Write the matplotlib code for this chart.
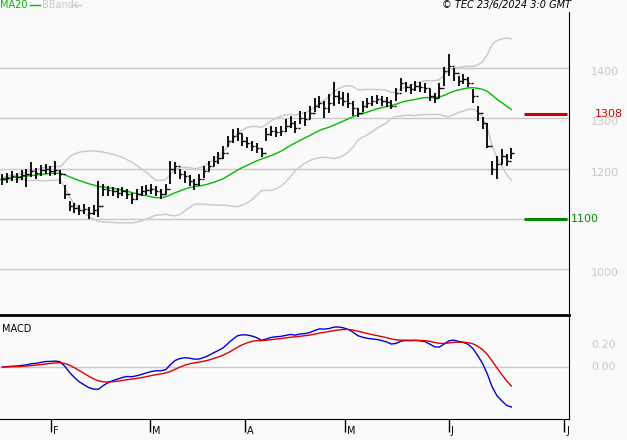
import numpy as np
import pandas as pd
import matplotlib
matplotlib.use("Agg")
import matplotlib.pyplot as plt

closes = [1180,1182,1185,1183,1188,1190,1195,1192,1198,1200,1195,1198,1190,1150,1125,1122,1118,1120,1112,1118,
          1125,1160,1158,1155,1152,1155,1150,1140,1150,1155,1158,1160,1155,1150,1160,1200,1205,1190,1185,1175,
          1170,1180,1195,1205,1215,1220,1230,1255,1265,1270,1255,1250,1245,1240,1230,1268,1275,1272,1275,1285,
          1290,1280,1300,1298,1310,1325,1330,1320,1330,1345,1340,1335,1330,1320,1310,1325,1330,1335,1338,1335,
          1332,1325,1350,1370,1362,1358,1365,1362,1360,1345,1340,1360,1395,1405,1390,1375,1378,1370,1345,1310,
          1290,1245,1200,1210,1225,1215,1230]
highs = [1190,1192,1195,1192,1198,1200,1212,1202,1208,1210,1205,1214,1198,1168,1135,1132,1128,1130,1124,1128,
         1176,1170,1166,1164,1162,1164,1160,1152,1160,1165,1168,1170,1166,1160,1170,1215,1212,1200,1195,1188,
         1180,1190,1205,1215,1225,1232,1245,1265,1278,1280,1268,1262,1255,1250,1240,1280,1285,1282,1285,1298,
         1305,1295,1315,1312,1325,1340,1345,1335,1348,1372,1355,1352,1350,1335,1320,1335,1340,1345,1346,1345,
         1342,1336,1360,1380,1372,1368,1375,1372,1370,1358,1350,1370,1402,1428,1400,1385,1388,1382,1358,1325,
         1302,1290,1215,1225,1238,1228,1240]
lows = [1168,1172,1175,1172,1178,1164,1184,1180,1186,1190,1185,1188,1170,1140,1115,1112,1108,1110,1100,1108,
        1103,1145,1146,1145,1142,1145,1140,1130,1138,1145,1148,1150,1145,1140,1150,1170,1190,1180,1172,1165,
        1158,1165,1182,1195,1205,1210,1218,1242,1250,1255,1245,1240,1235,1230,1222,1255,1265,1262,1265,1272,
        1280,1270,1288,1285,1298,1312,1320,1300,1310,1325,1328,1325,1320,1305,1303,1312,1320,1325,1328,1325,
        1322,1318,1335,1355,1352,1348,1355,1352,1350,1335,1330,1340,1365,1385,1375,1365,1368,1362,1330,1295,
        1278,1240,1188,1180,1210,1205,1218]
month_labels = ["F", "M", "A", "M", "J", "J"]
month_pos = [10.1, 30.75, 50.5, 71.4, 93.0, 117.0]
resistance = 1308
support = 1100

bg = "#fafafa"
fig = plt.figure(figsize=(6.27, 4.4), dpi=100, facecolor=bg)
W, H = 627, 440
def rect(x0, y0, x1, y1):
    return [x0 / W, 1 - y1 / H, (x1 - x0) / W, (y1 - y0) / H]

c = pd.Series(closes, dtype=float)
n = len(c)
x = np.arange(n)
ma = c.rolling(20, min_periods=1).mean()
sd = c.rolling(20, min_periods=2).std().bfill()
up, lo = ma + 2 * sd, ma - 2 * sd
macd = c.ewm(span=12, adjust=False).mean() - c.ewm(span=26, adjust=False).mean()
sig = macd.ewm(span=9, adjust=False).mean()

ax = fig.add_axes(rect(0, 12, 569, 315))
ax.set_facecolor(bg)
ax.set_xlim(-0.5, 118.0)
ax.set_ylim(908, 1512)
for v in [1000, 1100, 1200, 1300, 1400]:
    ax.axhline(v, color="#c8c8c8", lw=1, zorder=0)
ax.plot(x, up, color="#c8c8c8", lw=1)
ax.plot(x, lo, color="#c8c8c8", lw=1)
ax.plot(x, ma, color="#00bb00", lw=1)
opens = [closes[0]] + closes[:-1]
for i in range(n):
    ax.vlines(i, lows[i], highs[i], color="black", lw=1.3)
    ax.hlines(opens[i], i - 0.45, i, color="black", lw=1)
    ax.hlines(closes[i], i, i + 0.45, color="black", lw=1)
ax.hlines(resistance, 108.7, 117.5, color="#cc0000", lw=2.2)
ax.hlines(support, 108.7, 117.5, color="#008800", lw=2.2)
ax.set_xticks([]); ax.set_yticks([])
for s in ["top", "left"]:
    ax.spines[s].set_visible(False)
ax.spines["right"].set_color("black")
ax.spines["bottom"].set_linewidth(2)
ax.set_clip_on(False)
for v in [1000, 1100, 1200, 1300, 1400]:
    if v == support:
        continue
    ax.text(1.0 + 36 / W * (627 / 569), v - 8, str(v), transform=ax.get_yaxis_transform(),
            color="#c8c8c8", fontsize=8, ha="center", va="center")
ax.text(1.045, resistance, str(resistance), transform=ax.get_yaxis_transform(), color="#cc0000",
        fontsize=8, ha="left", va="center")
ax.text(1.004, support, str(support), transform=ax.get_yaxis_transform(), color="#008800",
        fontsize=8, ha="left", va="center")

fig.text(0 / W, 1 - 5 / H, "MA20", color="#00bb00", fontsize=7, va="center")
fig.add_artist(plt.Line2D([30 / W, 40 / W], [1 - 5 / H] * 2, color="#00bb00", lw=1))
fig.text(42 / W, 1 - 5 / H, "BBands", color="#c8c8c8", fontsize=7, va="center")
fig.add_artist(plt.Line2D([71 / W, 81 / W], [1 - 5 / H] * 2, color="#c8c8c8", lw=1))
fig.text(571 / W, 1 - 5 / H, "© TEC 23/6/2024 3:0 GMT", fontsize=7, style="italic", ha="right", va="center")

scale = macd.max() / 0.36
ax2 = fig.add_axes(rect(0, 317, 569, 419))
ax2.set_facecolor(bg)
ax2.set_xlim(-0.5, 118.0)
ax2.set_ylim(-0.47 * scale, 0.45 * scale)
ax2.axhline(0, color="#c8c8c8", lw=1, zorder=0)
ax2.plot(x, macd, color="#0000dd", lw=1)
ax2.plot(x, sig, color="#dd0000", lw=1)
ax2.set_yticks([])
ax2.set_xticks(month_pos)
ax2.set_xticklabels([])
ax2.tick_params(axis="x", length=9, direction="out", width=1)
for s in ["top", "left"]:
    ax2.spines[s].set_visible(False)
ax2.text(0.004, 0.88, "MACD", transform=ax2.transAxes, fontsize=7, va="center")
for p, lab in zip(month_pos, month_labels):
    ax2.text(p + 0.4, -0.12, lab, transform=ax2.get_xaxis_transform(), fontsize=7, va="center")
for v, lab in [(0.2, "0.20"), (0.0, "0.00")]:
    ax2.text(1.06, v * scale, lab, transform=ax2.get_yaxis_transform(), color="#c8c8c8",
             fontsize=8, ha="center", va="center")

fig.savefig("out.png", dpi=100, facecolor=bg)
